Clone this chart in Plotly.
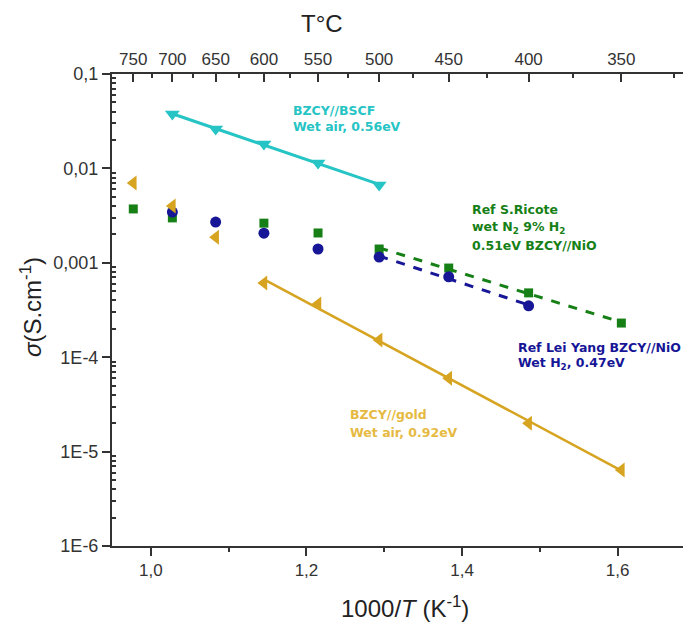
import numpy as np
import plotly.graph_objects as go

# Temperatures (°C) and corresponding 1000/T (K^-1)
temps_c = [750, 700, 650, 600, 550, 500, 450, 400, 350]
temps_minor_c = [725, 675, 625, 575, 525, 475, 425, 375, 325]
def inv_t(tc):
    return 1000.0 / (tc + 273.15)

# BZCY//BSCF, wet air
bscf_T = [700, 650, 600, 550, 500]
bscf_sigma = [0.0377, 0.0261, 0.0181, 0.0114, 0.00667]

# BZCY//gold, wet air
gold_T = [750, 700, 650, 600, 550, 500, 450, 400, 350]
gold_sigma = [0.0070, 0.0040, 0.00187, 6.1e-4, 3.66e-4, 1.52e-4, 6.0e-5, 2.0e-5, 6.4e-6]

# Ref S.Ricote, wet N2 9% H2
ricote_T = [750, 700, 600, 550, 500, 450, 400, 350]
ricote_sigma = [0.00372, 0.00299, 0.00263, 0.00207, 0.00140, 8.8e-4, 4.8e-4, 2.3e-4]

# Ref Lei Yang, wet H2
yang_T = [700, 650, 600, 550, 500, 450, 400]
yang_sigma = [0.00345, 0.0027, 0.00206, 0.00140, 0.00115, 7.1e-4, 3.5e-4]

x_ticks = [1.0, 1.2, 1.4, 1.6]
x_ticktext = ["1,0", "1,2", "1,4", "1,6"]
x_minor = [1.1, 1.3, 1.5]
y_ticks = [0.1, 0.01, 0.001, 1e-4, 1e-5, 1e-6]
y_ticktext = ["0,1", "0,01", "0,001", "1E-4", "1E-5", "1E-6"]
y_minor = [m * 10.0 ** e for e in range(-6, -1) for m in range(2, 10)]

cyan = "rgb(38,196,196)"
gold = "rgb(214,164,32)"
gold_text = "rgb(230,186,66)"
green = "rgb(22,128,22)"
blue = "rgb(22,22,150)"

def fit_line(Ts, sig, lo, hi):
    x = np.array([inv_t(t) for t in Ts])
    y = np.log10(np.array(sig))
    mask = np.array([(hi <= t <= lo) for t in Ts])
    xs = x[mask]; ys = y[mask]
    p = np.polyfit(xs, ys, 1)
    xf = np.array([xs.min(), xs.max()])
    return xf, 10 ** np.polyval(p, xf)

fig = go.Figure()

xf, yf = fit_line(bscf_T, bscf_sigma, 700, 500)
fig.add_trace(go.Scatter(x=xf, y=yf, mode="lines", line=dict(color=cyan, width=3), showlegend=False))
xf, yf = fit_line(gold_T, gold_sigma, 600, 350)
fig.add_trace(go.Scatter(x=xf, y=yf, mode="lines", line=dict(color=gold, width=2.5), showlegend=False))
xf, yf = fit_line(ricote_T, ricote_sigma, 500, 350)
fig.add_trace(go.Scatter(x=xf, y=yf, mode="lines", line=dict(color=green, width=3, dash="dash"), showlegend=False))
xf, yf = fit_line(yang_T, yang_sigma, 500, 400)
fig.add_trace(go.Scatter(x=xf, y=yf, mode="lines", line=dict(color=blue, width=3, dash="dash"), showlegend=False))

fig.add_trace(go.Scatter(x=[inv_t(t) for t in ricote_T], y=ricote_sigma, mode="markers",
                         marker=dict(symbol="square", size=9, color=green), showlegend=False))
fig.add_trace(go.Scatter(x=[inv_t(t) for t in yang_T], y=yang_sigma, mode="markers",
                         marker=dict(symbol="circle", size=11, color=blue), showlegend=False))
fig.add_trace(go.Scatter(x=[inv_t(t) for t in gold_T], y=gold_sigma, mode="markers",
                         marker=dict(symbol="triangle-left", size=13, color=gold), showlegend=False))
fig.add_trace(go.Scatter(x=[inv_t(t) for t in bscf_T], y=bscf_sigma, mode="markers",
                         marker=dict(symbol="triangle-down", size=13, color=cyan), showlegend=False))

# dummy trace to activate the top axis
fig.add_trace(go.Scatter(x=[inv_t(t) for t in temps_c], y=[None] * len(temps_c), xaxis="x2",
                         mode="markers", showlegend=False, hoverinfo="skip"))

xr = [0.95, 1.684]
fam = "Liberation Sans, Arial"
tickfont = dict(family=fam, size=17, color="#333")
ytickfont = dict(family=fam, size=18, color="#333")
titlefont = dict(family=fam, size=24, color="#222")

fig.update_layout(
    width=675, height=614,
    margin=dict(l=104, r=0, t=66, b=76, autoexpand=False),
    plot_bgcolor="white", paper_bgcolor="white",
    xaxis=dict(range=xr, tickvals=x_ticks, ticktext=x_ticktext, automargin=False,
               ticks="outside", ticklen=8, tickwidth=1.5, tickcolor="#333",
               minor=dict(tickvals=x_minor, ticks="outside", ticklen=4, tickcolor="#333"),
               showline=True, linecolor="#333", linewidth=2, showgrid=False, zeroline=False,
               tickfont=tickfont),
    xaxis2=dict(range=xr, overlaying="x", side="top", automargin=False,
                tickvals=[inv_t(t) for t in temps_c], ticktext=[str(t) for t in temps_c],
                ticks="inside", ticklen=8, tickwidth=1.5, tickcolor="#333",
                minor=dict(tickvals=[inv_t(t) for t in temps_minor_c],
                           ticks="inside", ticklen=4, tickcolor="#333"),
                showline=True, linecolor="#333", linewidth=2, showgrid=False, zeroline=False,
                tickfont=tickfont),
    yaxis=dict(type="log", range=[-6, -1], automargin=False,
               tickvals=y_ticks, ticktext=y_ticktext,
               ticks="outside", ticklen=8, tickwidth=1.5, tickcolor="#333",
               minor=dict(tickvals=y_minor, ticks="inside", ticklen=4, tickcolor="#333", showgrid=False),
               showline=True, linecolor="#333", linewidth=2, showgrid=False, zeroline=False,
               tickfont=ytickfont),
)

# axis titles
fig.add_annotation(x=0.513, y=-0.129, xref="paper", yref="paper", text="1000/<i>T</i> (K<sup>-1</sup>)",
                   showarrow=False, xanchor="center", yanchor="middle", font=titlefont)
fig.add_annotation(x=0.368, y=1.1398, xref="paper", yref="paper", text="T°C",
                   showarrow=False, xanchor="center", yanchor="top", font=titlefont)
fig.add_annotation(x=-0.142, y=0.506, xref="paper", yref="paper", text="<i>σ</i>(S.cm<sup>-1</sup>)",
                   showarrow=False, xanchor="center", yanchor="middle", textangle=-90, font=titlefont)

# series labels, one annotation per line
def add_label(lines, x_left, y_first_log, color, dy):
    for i, line in enumerate(lines):
        fig.add_annotation(x=x_left, y=y_first_log - i * dy, xref="x", yref="y",
                           text="<b>" + line + "</b>", showarrow=False, xanchor="left", yanchor="middle",
                           font=dict(family="DejaVu Sans", size=12.5, color=color))

add_label(["BZCY//BSCF", "Wet air, 0.56eV"], 1.180, -1.382, cyan, 0.17)
add_label(["Ref S.Ricote", "wet N<sub>2</sub> 9% H<sub>2</sub>", "0.51eV BZCY//NiO"], 1.410, -2.44, green, 0.19)
add_label(["Ref Lei Yang BZCY//NiO", "Wet H<sub>2</sub>, 0.47eV"], 1.469, -3.90, blue, 0.165)
add_label(["BZCY//gold", "Wet air, 0.92eV"], 1.253, -4.61, gold_text, 0.19)

fig.write_html("out.html")
